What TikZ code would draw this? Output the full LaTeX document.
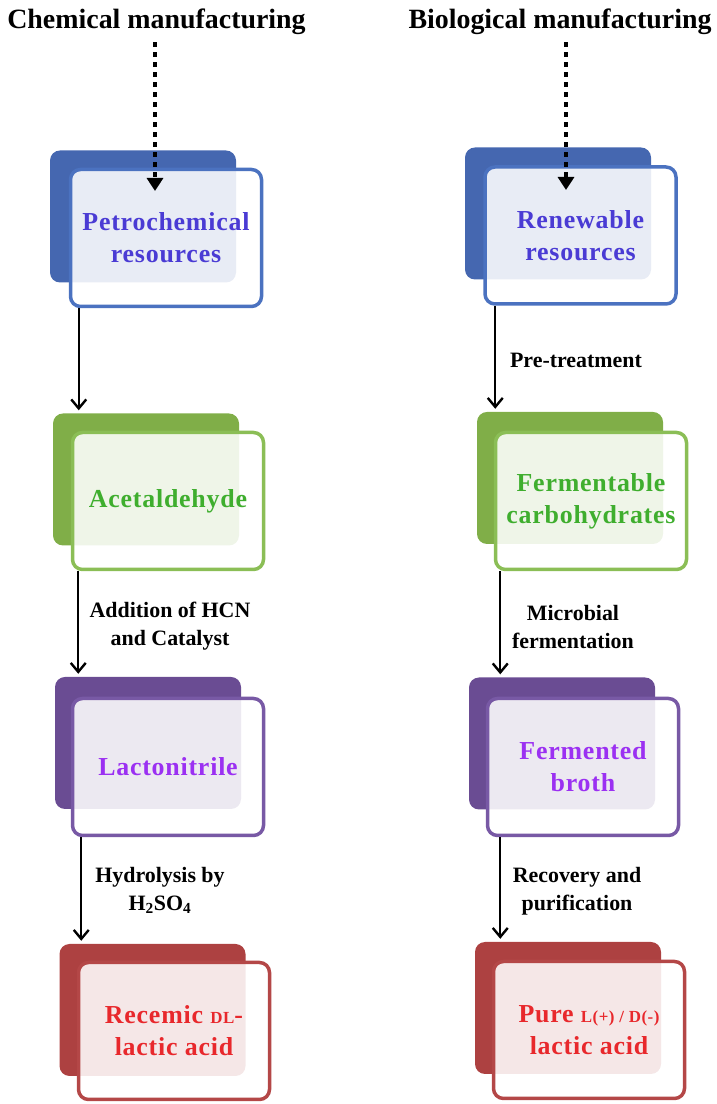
\documentclass[tikz,border=0pt]{standalone}
\usepackage{fontspec}
\setmainfont{Liberation Serif}
\newfontfamily\boxfont[LetterSpace=3]{Liberation Serif}
\usetikzlibrary{arrows.meta}
\definecolor{blueback}{HTML}{4567B0}
\definecolor{blueline}{HTML}{4B72C0}
\definecolor{bluetext}{HTML}{4A3BD4}
\definecolor{greenback}{HTML}{80AE48}
\definecolor{greenline}{HTML}{8BBE56}
\definecolor{greentext}{HTML}{3FAE2E}
\definecolor{purpleback}{HTML}{6A4C93}
\definecolor{purpleline}{HTML}{7859A5}
\definecolor{purpletext}{HTML}{9B30F2}
\definecolor{redback}{HTML}{AD4141}
\definecolor{redline}{HTML}{B44747}
\definecolor{redtext}{HTML}{E8282C}
\tikzset{
  backbox/.style={rounded corners=10bp,minimum width=186bp,minimum height=132bp,inner sep=0pt,draw=none},
  frontbox/.style={rounded corners=10bp,minimum width=191bp,minimum height=137bp,inner sep=0pt,line width=3.5bp,
    fill=white,fill opacity=0.88,text opacity=1,align=center,font=\boxfont\bfseries\fontsize{26}{32}\selectfont},
  steplabel/.style={align=center,font=\bfseries\fontsize{22}{28}\selectfont},
  headline/.style={font=\bfseries\fontsize{28}{32}\selectfont},
  dotarrow/.style={-{Triangle[length=13bp,width=16bp]},line width=4.5bp,dash pattern=on 5bp off 5bp},
}
\newcommand{\smallpart}[1]{{\fontsize{17}{17}\selectfont #1}}
\begin{document}
\begin{tikzpicture}[>={Straight Barb[length=9bp,width=15bp]},line join=bevel,]
\useasboundingbox (0bp,0bp) rectangle (717bp,1104bp);
%%
\node (title_l) at (156.5bp,1082bp) [headline] {Chemical manufacturing};
  \node (title_r) at (560bp,1082bp) [headline] {Biological manufacturing};
%
\node (back_1) at (143bp,887.5bp) [backbox,fill=blueback] {};
  \node (front_1) at (166bp,866bp) [frontbox,draw=blueline,text=bluetext] {Petrochemical\\resources};
  \node (back_2) at (146bp,624.5bp) [backbox,fill=greenback] {};
  \node (front_2) at (168bp,603bp) [frontbox,draw=greenline,text=greentext] {Acetaldehyde};
  \node (back_3) at (148bp,361bp) [backbox,fill=purpleback] {};
  \node (front_3) at (168bp,337bp) [frontbox,draw=purpleline,text=purpletext] {Lactonitrile};
  \node (back_4) at (152.5bp,94bp) [backbox,fill=redback] {};
  \node (front_4) at (174bp,73bp) [frontbox,draw=redline,text=redtext] {Recemic \smallpart{DL}-\\lactic acid};
%
\node (back_5) at (558bp,890.5bp) [backbox,fill=blueback] {};
  \node (front_5) at (580.5bp,868.5bp) [frontbox,draw=blueline,text=bluetext] {Renewable\\resources};
  \node (back_6) at (570bp,626bp) [backbox,fill=greenback] {};
  \node (front_6) at (591bp,603bp) [frontbox,draw=greenline,text=greentext] {Fermentable\\carbohydrates};
  \node (back_7) at (562bp,360.5bp) [backbox,fill=purpleback] {};
  \node (front_7) at (583bp,337bp) [frontbox,draw=purpleline,text=purpletext] {Fermented\\broth};
  \node (back_8) at (568bp,96bp) [backbox,fill=redback] {};
  \node (front_8) at (589bp,74bp) [frontbox,draw=redline,text=redtext] {Pure \smallpart{L(+) / D(-)}\\lactic acid};
%
\coordinate (tip_l) at (155bp,913bp);
  \coordinate (tip_r) at (566bp,914bp);
  \draw [black,dotarrow] ([yshift=-4bp]title_l.south -| tip_l) -- (tip_l);
  \draw [black,dotarrow] ([yshift=-4bp]title_r.south -| tip_r) -- (tip_r);
%
\draw [black,->,line width=2.4bp,shorten >=3bp] ([xshift=10bp]front_1.south west) -- ([xshift=10bp]front_1.south west |- back_2.north);
  \draw [black,->,line width=2.4bp,shorten >=3bp] ([xshift=7.5bp]front_2.south west) -- ([xshift=7.5bp]front_2.south west |- back_3.north);
  \draw [black,->,line width=2.4bp,shorten >=3bp] ([xshift=10.5bp]front_3.south west) -- ([xshift=10.5bp]front_3.south west |- back_4.north);
  \draw [black,->,line width=2.4bp,shorten >=3bp] ([xshift=12bp]front_5.south west) -- ([xshift=12bp]front_5.south west |- back_6.north);
  \draw [black,->,line width=2.4bp,shorten >=3bp] ([xshift=6.5bp]front_6.south west) -- ([xshift=6.5bp]front_6.south west |- back_7.north);
  \draw [black,->,line width=2.4bp,shorten >=3bp] ([xshift=14.5bp]front_7.south west) -- ([xshift=14.5bp]front_7.south west |- back_8.north);
%
\node (step_1) at (170bp,478bp) [steplabel] {Addition of HCN\\and Catalyst};
  \node (step_2) at (160bp,213.5bp) [steplabel] {Hydrolysis by\\H\textsubscript{2}SO\textsubscript{4}};
  \node (step_3) at (576bp,744bp) [steplabel] {Pre-treatment};
  \node (step_4) at (573bp,477bp) [steplabel] {Microbial\\fermentation};
  \node (step_5) at (577bp,213bp) [steplabel] {Recovery and\\purification};
%
\end{tikzpicture}
\end{document}
